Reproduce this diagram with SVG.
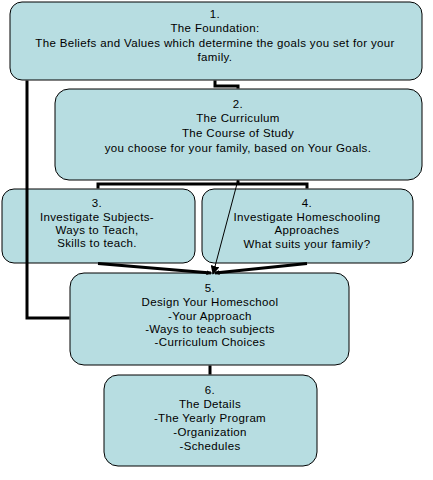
<svg xmlns="http://www.w3.org/2000/svg" width="433" height="480" viewBox="0 0 433 480">
<style>
.box{fill:#b7dde1;stroke:#000;stroke-width:1}
.t{font-family:"Liberation Sans",Arial,sans-serif;font-size:11.5px;letter-spacing:0.35px;fill:#000;text-anchor:middle}
.thick{fill:none;stroke:#000;stroke-width:3}
.thin{fill:none;stroke:#000;stroke-width:1}
</style>
<defs>
<marker id="ah" viewBox="0 0 10 10" refX="9" refY="5" markerWidth="5" markerHeight="5" orient="auto" markerUnits="userSpaceOnUse">
<path d="M0,0 L10,5 L0,10 z" fill="#000"/>
</marker>
<marker id="ahs" viewBox="0 0 10 10" refX="9" refY="5" markerWidth="9" markerHeight="9" orient="auto" markerUnits="userSpaceOnUse">
<path d="M0,0 L10,5 L0,10 z" fill="#000"/>
</marker>
</defs>
<rect width="433" height="480" fill="#fff"/>
<g id="node1">
<rect class="box" x="10" y="2" width="412" height="78" rx="12"/>
<text class="t" x="215" y="18">1.</text>
<text class="t" x="215" y="32">The Foundation:</text>
<text class="t" x="215" y="47">The Beliefs and Values which determine the goals you set for your</text>
<text class="t" x="215" y="61">family.</text>
</g>
<g id="node2">
<rect class="box" x="55" y="89" width="367" height="91" rx="14"/>
<text class="t" x="238" y="108">2.</text>
<text class="t" x="238" y="122">The Curriculum</text>
<text class="t" x="238" y="137">The Course of Study</text>
<text class="t" x="238" y="152">you choose for your family, based on Your Goals.</text>
</g>
<g id="node3">
<rect class="box" x="2" y="189" width="193" height="74" rx="12"/>
<text class="t" x="97" y="207">3.</text>
<text class="t" x="97" y="221">Investigate Subjects-</text>
<text class="t" x="97" y="234">Ways to Teach,</text>
<text class="t" x="97" y="247">Skills to teach.</text>
</g>
<g id="node4">
<rect class="box" x="202" y="189" width="211" height="74" rx="12"/>
<text class="t" x="307" y="207">4.</text>
<text class="t" x="307" y="221">Investigate Homeschooling</text>
<text class="t" x="307" y="234">Approaches</text>
<text class="t" x="307" y="248">What suits your family?</text>
</g>
<g id="node5">
<rect class="box" x="70" y="273" width="279" height="92" rx="14"/>
<text class="t" x="210" y="292">5.</text>
<text class="t" x="210" y="306">Design Your Homeschool</text>
<text class="t" x="210" y="319.5">-Your Approach</text>
<text class="t" x="210" y="332.5">-Ways to teach subjects</text>
<text class="t" x="210" y="345.5">-Curriculum Choices</text>
</g>
<g id="node6">
<rect class="box" x="104" y="375" width="213" height="91" rx="14"/>
<text class="t" x="210" y="394">6.</text>
<text class="t" x="210" y="407.5">The Details</text>
<text class="t" x="210" y="421.5">-The Yearly Program</text>
<text class="t" x="210" y="435.5">-Organization</text>
<text class="t" x="210" y="449.5">-Schedules</text>
</g>
<g id="connectors">
<polyline class="thick" points="27,80.5 27,318 69.5,318"/>
<polyline class="thick" points="215,80.5 215,86 238,86 238,88.5"/>
<polyline class="thick" points="238,180.5 238,184"/>
<polyline class="thick" points="98,188.5 98,184 307,184 307,188.5"/>
<line class="thick" x1="98" y1="263.5" x2="211" y2="273" marker-end="url(#ah)"/>
<line class="thick" x1="307" y1="263.5" x2="215" y2="273" marker-end="url(#ah)"/>
<line class="thin" x1="238" y1="180" x2="213" y2="274" marker-end="url(#ahs)"/>
<line class="thick" x1="210" y1="365.5" x2="210" y2="374.5"/>
</g>
</svg>
